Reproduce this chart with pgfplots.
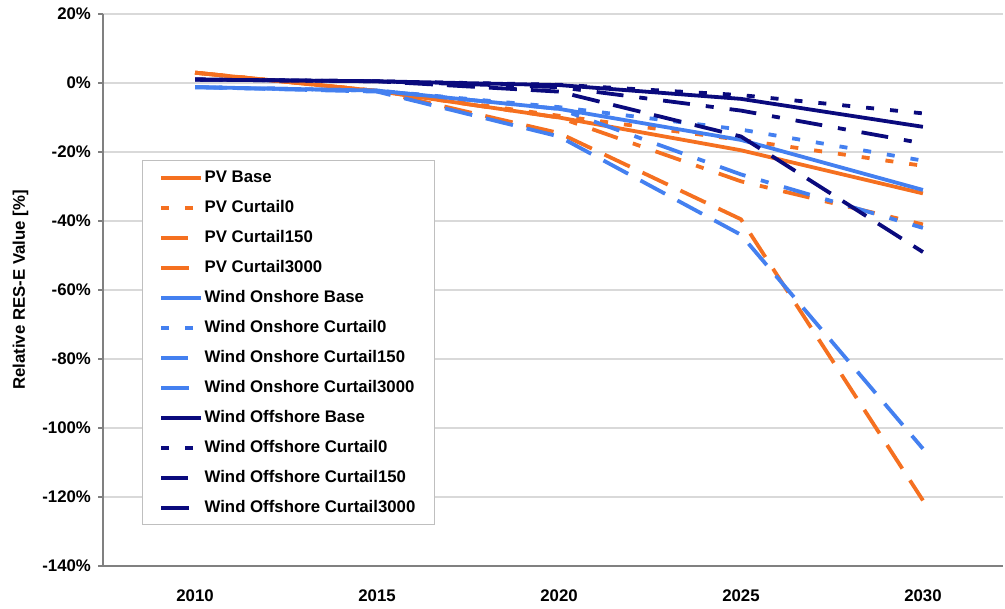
\documentclass[border=0pt]{standalone}
\usepackage{fontspec}
\setmainfont{Liberation Sans}
\usepackage{pgfplots}
\pgfplotsset{compat=1.18}

\definecolor{pvorange}{RGB}{245,112,32}
\definecolor{onblue}{RGB}{68,128,240}
\definecolor{offnavy}{RGB}{10,10,125}

\tikzset{
  cur0/.style={dash pattern=on 4pt off 8pt},
  cur150/.style={dash pattern=on 13.5pt off 8pt on 4pt off 8pt},
  cur3000/.style={dash pattern=on 14pt off 7pt},
}

\begin{document}
\begin{tikzpicture}
\begin{axis}[
    name=ax,
    scale only axis,
    width=450pt, height=276pt,
    xmin=2007.47, xmax=2032.2,
    ymin=-140, ymax=20,
    axis lines*=left,
    axis line style={draw=black!50, line width=0.7pt},
    xtick={2010,2015,2020,2025,2030},
    xticklabels={2010,2015,2020,2025,2030},
    ytick={-140,-120,-100,-80,-60,-40,-20,0,20},
    yticklabels={-140\%,-120\%,-100\%,-80\%,-60\%,-40\%,-20\%,0\%,20\%},
    x tick style={draw=none},
    y tick style={draw=black!50, line width=0.6pt},
    tick align=outside,
    major tick length=2.5pt,
    ymajorgrids,
    grid style={black!15, line width=0.6pt},
    tick label style={font=\bfseries\fontsize{8.4}{10}\selectfont},
    xticklabel shift=6pt,
    ylabel={Relative RES-E Value [\%]},
    ylabel style={at={(axis description cs:-0.0917,0.5)}, anchor=center,
                  font=\bfseries\fontsize{8.4}{10}\selectfont},
    every axis plot/.append style={line width=1.9pt},
    legend image code/.code={\draw[#1] (0pt,0pt) -- (20pt,0pt);},
    legend cell align=left,
    legend style={
        at={(axis description cs:0.043,0.735)}, anchor=north west,
        draw=black!25, line width=0.5pt,
        font=\bfseries\fontsize{8.4}{10}\selectfont,
        inner xsep=8.5pt, inner ysep=4.5pt,
        row sep=7pt,
        nodes={inner ysep=0pt, inner xsep=0.8pt, text height=6.5pt, text depth=1.5pt},
    },
]
% PV
\addplot[pvorange] coordinates {(2010,3) (2015,-2.3) (2020,-10) (2025,-19.5) (2030,-32)};
\addlegendentry{PV Base}
\addplot[pvorange, cur0] coordinates {(2010,3) (2015,-2.3) (2020,-9.5) (2025,-16.5) (2030,-24)};
\addlegendentry{PV Curtail0}
\addplot[pvorange, cur150] coordinates {(2010,3) (2015,-2.3) (2020,-10) (2025,-28.5) (2030,-41)};
\addlegendentry{PV Curtail150}
\addplot[pvorange, cur3000] coordinates {(2010,3) (2015,-2.3) (2020,-14.5) (2025,-39.5) (2030,-121)};
\addlegendentry{PV Curtail3000}
% wind onshore
\addplot[onblue] coordinates {(2010,-1.2) (2015,-2.2) (2020,-7.5) (2025,-16.5) (2030,-31)};
\addlegendentry{Wind Onshore Base}
\addplot[onblue, cur0] coordinates {(2010,-1.2) (2015,-2.2) (2020,-7) (2025,-13.5) (2030,-22.5)};
\addlegendentry{Wind Onshore Curtail0}
\addplot[onblue, cur150] coordinates {(2010,-1.2) (2015,-2.2) (2020,-7.5) (2025,-26.5) (2030,-42)};
\addlegendentry{Wind Onshore Curtail150}
\addplot[onblue, cur3000] coordinates {(2010,-1.2) (2015,-2.5) (2020,-15.5) (2025,-44) (2030,-106)};
\addlegendentry{Wind Onshore Curtail3000}
% wind offshore
\addplot[offnavy] coordinates {(2010,1) (2015,0.5) (2020,-0.6) (2025,-4.6) (2030,-12.7)};
\addlegendentry{Wind Offshore Base}
\addplot[offnavy, cur0] coordinates {(2010,1) (2015,0.5) (2020,-0.5) (2025,-3.5) (2030,-8.8)};
\addlegendentry{Wind Offshore Curtail0}
\addplot[offnavy, cur150] coordinates {(2010,1) (2015,0.5) (2020,-1.2) (2025,-8) (2030,-17.5)};
\addlegendentry{Wind Offshore Curtail150}
\addplot[offnavy, cur3000] coordinates {(2010,1) (2015,0.5) (2020,-2.5) (2025,-15.5) (2030,-49)};
\addlegendentry{Wind Offshore Curtail3000}
\end{axis}
\path (ax.south west) ++(-51.5pt,-18pt) rectangle ++(502.5pt,301pt);
\end{tikzpicture}
\end{document}
